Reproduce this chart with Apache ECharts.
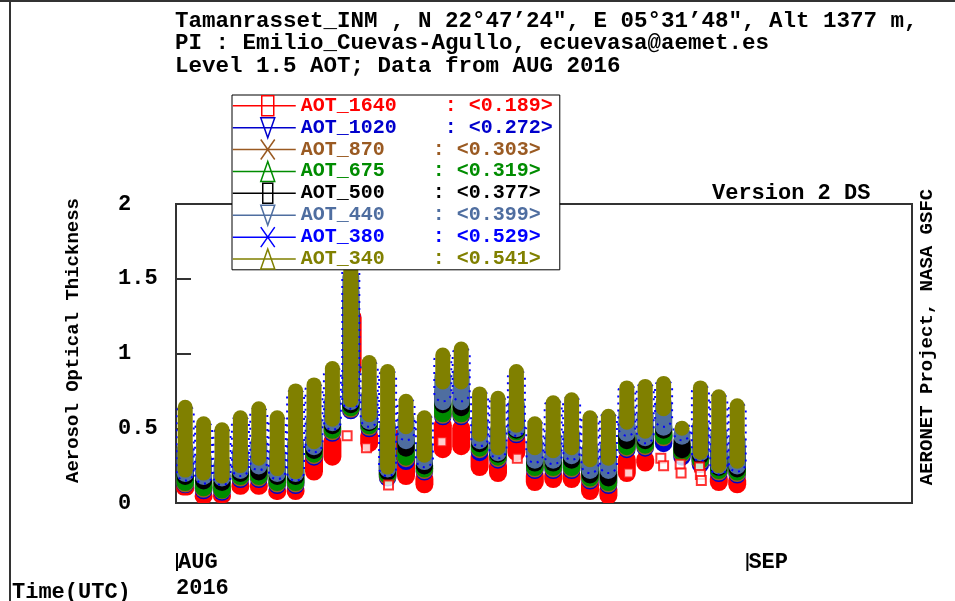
<!DOCTYPE html>
<html><head><meta charset="utf-8">
<script src="https://cdn.jsdelivr.net/npm/echarts@6/dist/echarts.min.js"></script>
<style>html,body{margin:0;padding:0;background:#fff}#c{width:955px;height:601px}</style>
</head><body><div id="c"></div>
<script>
// ---- data (day of August 2016, fractional; AOT ranges per day) ----
const obsDay = [1.5,2.5,3.5,4.5,5.5,6.5,7.5,8.5,9.5,10.5,11.5,12.5,13.5,14.5,15.5,16.5,17.5,18.5,19.5,20.5,21.5,22.5,23.5,24.5,25.5,26.5,27.5,28.5,29.5,30.5,31.5];

const aot340Lo = [0.19,0.17,0.15,0.22,0.27,0.20,0.18,0.38,0.53,0.66,0.56,0.21,0.48,0.29,0.78,0.78,0.43,0.34,0.49,0.34,0.32,0.34,0.26,0.27,0.51,0.45,0.60,0.47,0.31,0.22,0.25];
const aot340Hi = [0.67,0.56,0.52,0.60,0.66,0.60,0.78,0.82,0.93,1.80,0.97,0.91,0.71,0.60,1.02,1.06,0.76,0.73,0.91,0.56,0.70,0.72,0.60,0.61,0.80,0.81,0.83,0.53,0.80,0.74,0.68];
const aot380Lo = [0.17,0.15,0.14,0.20,0.24,0.18,0.17,0.36,0.51,0.65,0.53,0.20,0.44,0.26,0.70,0.70,0.40,0.32,0.47,0.29,0.28,0.31,0.22,0.22,0.47,0.42,0.53,0.44,0.30,0.21,0.23];
const aot380Hi = [0.64,0.53,0.49,0.57,0.63,0.57,0.75,0.79,0.90,1.72,0.94,0.88,0.69,0.58,0.99,1.03,0.74,0.70,0.88,0.54,0.68,0.70,0.58,0.59,0.78,0.79,0.81,0.52,0.78,0.72,0.66];
const aot440Lo = [0.16,0.14,0.13,0.18,0.21,0.16,0.16,0.34,0.50,0.64,0.51,0.19,0.38,0.24,0.64,0.64,0.38,0.30,0.46,0.25,0.25,0.28,0.18,0.18,0.43,0.40,0.47,0.41,0.30,0.21,0.21];
const aot440Hi = [0.40,0.33,0.30,0.38,0.44,0.37,0.44,0.58,0.72,1.55,0.75,0.55,0.60,0.42,0.88,0.90,0.58,0.52,0.70,0.44,0.48,0.50,0.40,0.42,0.64,0.62,0.70,0.50,0.55,0.50,0.46];
const aot500Lo = [0.14,0.11,0.10,0.16,0.17,0.14,0.14,0.315,0.48,0.62,0.50,0.17,0.33,0.21,0.62,0.60,0.36,0.29,0.45,0.23,0.23,0.25,0.15,0.13,0.38,0.38,0.45,0.32,0.28,0.20,0.19];
const aot500Hi = [0.30,0.24,0.22,0.30,0.34,0.28,0.33,0.48,0.62,1.45,0.66,0.45,0.52,0.34,0.78,0.80,0.50,0.44,0.62,0.38,0.40,0.42,0.32,0.34,0.56,0.54,0.60,0.46,0.46,0.42,0.40];
const aot675Lo = [0.10,0.065,0.05,0.14,0.14,0.10,0.10,0.29,0.45,0.60,0.48,0.15,0.27,0.19,0.56,0.56,0.33,0.27,0.44,0.20,0.20,0.20,0.13,0.10,0.34,0.35,0.41,0.30,0.25,0.18,0.17];
const aot675Hi = [0.24,0.19,0.17,0.25,0.28,0.22,0.26,0.42,0.57,1.38,0.60,0.38,0.45,0.29,0.70,0.72,0.45,0.39,0.56,0.33,0.34,0.36,0.27,0.28,0.50,0.49,0.54,0.42,0.40,0.36,0.34];
const aot870Lo = [0.09,0.055,0.045,0.13,0.13,0.09,0.09,0.28,0.44,0.59,0.47,0.14,0.26,0.18,0.55,0.55,0.32,0.26,0.43,0.19,0.19,0.19,0.12,0.09,0.33,0.34,0.40,0.29,0.24,0.17,0.16];
const aot870Hi = [0.21,0.16,0.15,0.22,0.25,0.19,0.23,0.39,0.54,1.32,0.57,0.35,0.42,0.27,0.66,0.68,0.42,0.36,0.53,0.30,0.31,0.33,0.25,0.25,0.47,0.46,0.51,0.40,0.37,0.33,0.31];
const aot1020Lo = [0.085,0.045,0.035,0.12,0.12,0.08,0.08,0.27,0.43,0.58,0.46,0.13,0.24,0.17,0.54,0.54,0.30,0.25,0.42,0.18,0.18,0.18,0.11,0.08,0.32,0.33,0.36,0.27,0.22,0.16,0.15];
const aot1020Hi = [0.19,0.14,0.13,0.20,0.22,0.17,0.20,0.37,0.52,1.28,0.55,0.32,0.40,0.25,0.63,0.65,0.40,0.34,0.51,0.28,0.29,0.31,0.23,0.23,0.45,0.44,0.49,0.38,0.35,0.31,0.29];
const aot1640Lo = [0.07,0.01,0.02,0.075,0.075,0.04,0.04,0.17,0.27,null,0.36,null,0.14,0.085,0.32,0.34,0.20,0.16,0.30,0.10,0.12,0.12,0.04,0.01,0.16,0.23,null,null,null,0.10,0.085];
const aot1640Hi = [0.12,0.08,0.07,0.15,0.15,0.11,0.12,0.43,0.45,null,0.49,null,0.33,0.20,0.56,0.54,0.35,0.29,0.46,0.22,0.22,0.22,0.16,0.13,0.33,0.33,null,null,null,0.20,0.19];
const aot1640ExtraDay = [10.6, 12.75];
const aot1640ExtraLo  = [0.86, 0.30];
const aot1640ExtraHi  = [1.28, 0.48];
const aot1640PtDay = [10.3,11.35,12.55,15.45,19.55,25.6,27.35,27.5,28.4,28.45,29.45,29.5,29.55];
const aot1640PtVal = [0.45,0.37,0.12,0.41,0.30,0.20,0.30,0.25,0.26,0.20,0.24,0.19,0.15];

const seriesNames = ['AOT_1640','AOT_1020','AOT_870','AOT_675','AOT_500','AOT_440','AOT_380','AOT_340'];
const meanAOT = ['0.189','0.272','0.303','0.319','0.377','0.399','0.529','0.541'];
const monthTicks = [0, 31];               // days since 1 Aug: AUG, SEP
const monthLabels = ['AUG\n2016', 'SEP'];
const yTicks = [0, 0.5, 1, 1.5, 2];

// ---- styles ----
const FONT = '"Liberation Mono","DejaVu Sans Mono",monospace';
const colors = ['#ff0000','#0000cc','#9a5a22','#008c00','#000000','#4f6ea0','#0000ff','#808000'];
const widths = [18, 17.5, 17.5, 17.5, 17, 17, 17, 15];
const icons = [
  'path://M0,10H63M29,0H41V20H29Z',
  'path://M0,10H63M28,0H42L35,20Z',
  'path://M0,10H63M28,0L42,20M42,0L28,20',
  'path://M0,10H63M35,0L42,20H28Z',
  'path://M0,10H63M30,0H40V20H30Z',
  'path://M0,10H63M28,0H42L35,20Z',
  'path://M0,10H63M28,0L42,20M42,0L28,20',
  'path://M0,10H63M35,0L42,20H28Z'
];
const loArr = [aot1640Lo, aot1020Lo, aot870Lo, aot675Lo, aot500Lo, aot440Lo, aot380Lo, aot340Lo];
const hiArr = [aot1640Hi, aot1020Hi, aot870Hi, aot675Hi, aot500Hi, aot440Hi, aot380Hi, aot340Hi];

function buildData(i) {
  const out = [];
  obsDay.forEach((d, k) => {
    if (loArr[i][k] != null) out.push([d - 1, loArr[i][k], hiArr[i][k]]);
  });
  if (i === 0) aot1640ExtraDay.forEach((d, k) => out.push([d - 1, aot1640ExtraLo[k], aot1640ExtraHi[k]]));
  return out;
}

function renderCol(i) {
  const w = widths[i];
  return function (params, api) {
    const x = api.value(0);
    const top = api.coord([x, api.value(2)]);
    const bot = api.coord([x, api.value(1)]);
    const pad = 3;
    const h = bot[1] - top[1] + 2 * pad;
    const style = (i === 6)
      ? { fill: 'none', stroke: colors[i], lineWidth: 2, lineDash: [2, 5] }
      : { fill: colors[i] };
    return {
      type: 'rect',
      shape: { x: top[0] - w / 2, y: top[1] - pad, width: w, height: h, r: Math.min(w / 2, h / 2) },
      style: style
    };
  };
}

const series = [];
seriesNames.forEach((n, i) => {
  series.push({
    type: 'custom', name: n, color: colors[i], clip: true,
    renderItem: renderCol(i),
    encode: { x: 0, y: [1, 2] },
    data: buildData(i)
  });
  if (i === 0) {
    series.push({
      type: 'scatter', name: n, color: colors[0],
      symbol: 'emptyRect', symbolSize: 9,
      itemStyle: { borderWidth: 1.5 },
      data: aot1640PtDay.map((d, k) => [d - 1, aot1640PtVal[k]])
    });
  }
});

const legendText = {};
seriesNames.forEach((n, i) => {
  legendText[n] = n + '    : <' + meanAOT[i] + '>';
});

const chart = echarts.init(document.getElementById('c'), null, { renderer: 'canvas' });
chart.setOption({
  animation: false,
  backgroundColor: '#fff',
  title: {
    text: 'Tamanrasset_INM , N 22°47’24", E 05°31’48", Alt 1377 m,\nPI : Emilio_Cuevas-Agullo, ecuevasa@aemet.es\nLevel 1.5 AOT; Data from AUG 2016',
    left: 175, top: 10, padding: 0,
    textStyle: { fontFamily: FONT, fontWeight: 'bold', fontSize: 22.5, lineHeight: 22.5, color: '#000' }
  },
  grid: { left: 176, right: 43, top: 204, bottom: 93, show: true, borderColor: '#333', borderWidth: 2, containLabel: false },
  legend: {
    orient: 'vertical', left: 232, top: 95, padding: [0, 7, 0, 0],
    itemGap: 0.4, itemWidth: 63, itemHeight: 20,
    backgroundColor: '#fff', borderColor: '#000', borderWidth: 1,
    selectedMode: false, symbolKeepAspect: false,
    textStyle: { fontFamily: FONT, fontWeight: 'bold', fontSize: 20 },
    formatter: name => legendText[name],
    data: seriesNames.map((n, i) => ({
      name: n, icon: icons[i],
      itemStyle: { color: 'rgba(0,0,0,0)', borderColor: colors[i], borderWidth: 1.5 },
      textStyle: { color: colors[i] }
    }))
  },
  xAxis: {
    type: 'value', min: 0, max: 40, interval: monthTicks[1] - monthTicks[0],
    axisLine: { show: false }, axisTick: { show: false }, splitLine: { show: false },
    axisLabel: {
      showMaxLabel: false, margin: 46, align: 'left', color: '#000',
      fontFamily: FONT, fontWeight: 'bold', fontSize: 22, lineHeight: 26,
      formatter: v => {
        const k = monthTicks.indexOf(v);
        return k < 0 ? '' : '{bar|}' + monthLabels[k];
      },
      rich: { bar: { width: 2, height: 18, backgroundColor: '#000' } }
    }
  },
  yAxis: {
    type: 'value', min: yTicks[0], max: yTicks[yTicks.length - 1], interval: yTicks[1] - yTicks[0],
    name: 'Aerosol Optical Thickness', nameLocation: 'middle', nameGap: 93, nameRotate: 90,
    nameTextStyle: { fontFamily: FONT, fontWeight: 'bold', fontSize: 19, color: '#000', padding: [0, 0, 0, 26] },
    axisLine: { show: true, lineStyle: { color: '#333', width: 2 } },
    axisTick: { show: true, inside: true, length: 15, lineStyle: { color: '#333', width: 2 } },
    splitLine: { show: false },
    axisLabel: { align: 'left', margin: 58, color: '#000', fontFamily: FONT, fontWeight: 'bold', fontSize: 22 }
  },
  graphic: [
    { type: 'line', shape: { x1: 0, y1: 1, x2: 955, y2: 1 }, style: { stroke: '#333', lineWidth: 2 } },
    { type: 'line', shape: { x1: 10, y1: 0, x2: 10, y2: 601 }, style: { stroke: '#333', lineWidth: 2 } },
    { type: 'text', x: 712, y: 193, style: { text: 'Version 2 DS', font: 'bold 22px ' + FONT, fill: '#000', textVerticalAlign: 'middle' } },
    { type: 'text', x: 927, y: 337, rotation: Math.PI / 2, style: { text: 'AERONET Project, NASA GSFC', font: 'bold 19px ' + FONT, fill: '#000', textAlign: 'center', textVerticalAlign: 'middle' } },
    { type: 'text', x: 12, y: 592, style: { text: 'Time(UTC)', font: 'bold 22px ' + FONT, fill: '#000', textVerticalAlign: 'middle' } }
  ],
  series: series
});
</script>
</body></html>
